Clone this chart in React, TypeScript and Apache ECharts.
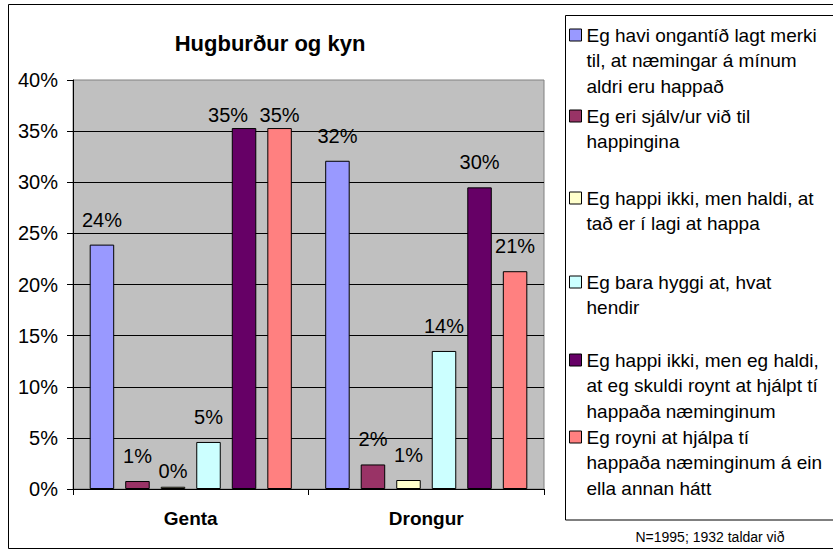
import React, { useEffect, useRef } from "react";
import * as echarts from "echarts";

const FONT = "'Liberation Sans', Arial, sans-serif";

const categories = ["Genta", "Drongur"];

const legendLines: string[][] = [
  ["Eg havi ongantíð lagt merki", "til, at næmingar á mínum", "aldri eru happað"],
  ["Eg eri sjálv/ur við til", "happingina"],
  ["Eg happi ikki, men haldi, at", "tað er í lagi at happa"],
  ["Eg bara hyggi at, hvat", "hendir"],
  ["Eg happi ikki, men eg haldi,", "at eg skuldi roynt at hjálpt tí", "happaða næminginum"],
  ["Eg royni at hjálpa tí", "happaða næminginum á ein", "ella annan hátt"],
];
const seriesNames = legendLines.map((l) => l.join(" "));

// values in percent, [Genta, Drongur]
const merkiValues = [23.9, 32.1];
const sjalvurValues = [0.78, 2.4];
const ilagiValues = [0.22, 0.88];
const hyggiValues = [4.6, 13.5];
const skuldiValues = [35.3, 29.5];
const royniValues = [35.3, 21.3];
const allValues = [merkiValues, sjalvurValues, ilagiValues, hyggiValues, skuldiValues, royniValues];

const colors = ["#9999FF", "#993366", "#FFFFCC", "#CCFFFF", "#660066", "#FF8080"];

const yTicks = { min: 0, max: 40, interval: 5 };
const title = "Hugburður og kyn";
const footnote = "N=1995; 1932 taldar við";

// label placement tweaks (style only)
const labelTweaks: Record<string, any> = {
  "4-0": { distance: 3, offset: [-16, 0] },
  "5-0": { distance: 3 },
  "2-0": { distance: 5.5 },
};
const legendFirstLine = [35, 116, 198, 282, 360, 437];
const LH = 25.7;

export default function App() {
  const ref = useRef<HTMLDivElement>(null);
  useEffect(() => {
    if (!ref.current) return;
    const chart = echarts.init(ref.current, undefined, { renderer: "svg" });
    const option: any = {
      animation: false,
      backgroundColor: "#fff",
      grid: {
        left: 73,
        right: 289,
        top: 80,
        bottom: 61,
        show: true,
        backgroundColor: "#C0C0C0",
        borderColor: "#808080",
        borderWidth: 1,
      },
      xAxis: {
        type: "category",
        data: categories,
        axisLine: { lineStyle: { color: "#000", width: 1 } },
        axisTick: { show: true, length: 6, lineStyle: { color: "#000" } },
        axisLabel: {
          fontSize: 19,
          fontWeight: "bold",
          color: "#000",
          margin: 20,
          fontFamily: FONT,
        },
      },
      yAxis: {
        type: "value",
        min: yTicks.min,
        max: yTicks.max,
        interval: yTicks.interval,
        axisLine: { show: true, lineStyle: { color: "#000", width: 1 } },
        axisTick: { show: true, length: 6, lineStyle: { color: "#000" } },
        axisLabel: {
          formatter: "{value}%",
          fontSize: 20,
          color: "#000",
          margin: 15,
          fontFamily: FONT,
        },
        splitLine: { show: true, showMaxLine: false, lineStyle: { color: "#000", width: 1 } },
      },
      legend: legendLines.map((lines, i) => ({
        data: [seriesNames[i]],
        orient: "vertical",
        left: 569,
        top: legendFirstLine[i] - (lines.length - 1) * LH - LH / 2,
        padding: 0,
        itemWidth: 12,
        itemHeight: 12,
        icon: "rect",
        selectedMode: false,
        itemStyle: { borderColor: "#000", borderWidth: 1 },
        textStyle: { fontSize: 19, lineHeight: LH, color: "#000", fontFamily: FONT },
        formatter: () => "\n".repeat(lines.length - 1) + lines.join("\n"),
      })),
      series: allValues.map((vals, i) => ({
        type: "bar",
        name: seriesNames[i],
        barWidth: 24.5,
        barGap: "45%",
        itemStyle: { color: colors[i], borderColor: "#000", borderWidth: 1 },
        label: {
          show: true,
          position: "top",
          distance: 15,
          fontSize: 20,
          color: "#000",
          fontFamily: FONT,
          formatter: (p: any) => Math.round(p.value) + "%",
        },
        data: vals.map((v, j) => {
          const t = labelTweaks[`${i}-${j}`];
          return t ? { value: v, label: t } : { value: v };
        }),
      })),
      graphic: [
        {
          type: "rect",
          silent: true,
          shape: { x: 8.5, y: 4.5, width: 840, height: 544 },
          style: { fill: "none", stroke: "#000", lineWidth: 1 },
        },
        {
          type: "rect",
          silent: true,
          shape: { x: 565.5, y: 15.5, width: 300, height: 504.5 },
          style: { fill: "none", stroke: "#000", lineWidth: 1 },
        },
        {
          type: "text",
          silent: true,
          x: 270,
          y: 43,
          style: {
            text: title,
            align: "center",
            verticalAlign: "middle",
            textAlign: "center",
            textVerticalAlign: "middle",
            fontSize: 22,
            fontWeight: "bold",
            fontFamily: FONT,
            fill: "#000",
          },
        },
        {
          type: "text",
          silent: true,
          x: 710,
          y: 537,
          style: {
            text: footnote,
            align: "center",
            verticalAlign: "middle",
            textAlign: "center",
            textVerticalAlign: "middle",
            fontSize: 14,
            fontFamily: FONT,
            fill: "#000",
          },
        },
      ],
    };
    chart.setOption(option);
    return () => chart.dispose();
  }, []);
  return (
    <div
      ref={ref}
      style={{ position: "fixed", left: 0, top: 0, width: 833, height: 550, background: "#fff" }}
    />
  );
}
